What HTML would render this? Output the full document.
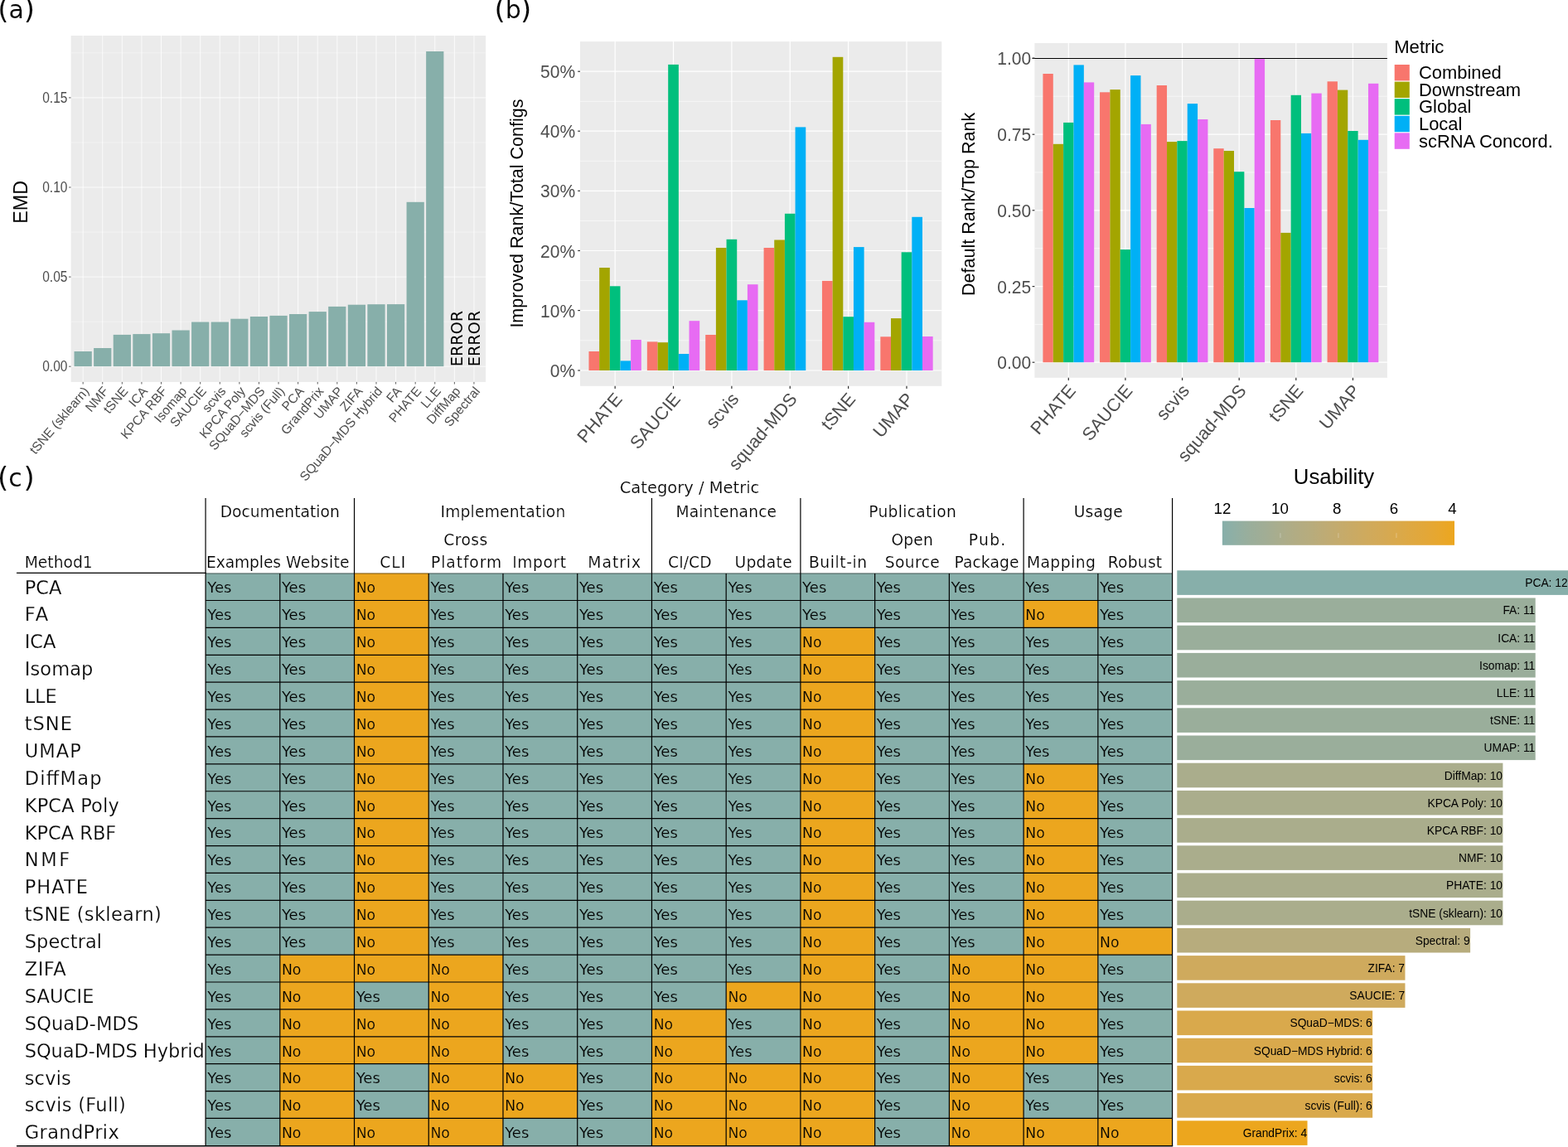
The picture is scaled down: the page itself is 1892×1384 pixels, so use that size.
<!DOCTYPE html>
<html lang="en">
<head>
<meta charset="utf-8">
<title>Figure: EMD, parameter sensitivity and usability of dimensionality reduction methods</title>
<style>
html,body{margin:0;padding:0;background:#fff;}
body{width:1892px;height:1384px;overflow:hidden;}
svg{display:block;}
text{white-space:pre;}
</style>
</head>
<body>
<svg width="1892" height="1384" viewBox="0 0 1892 1384">
<rect x="0" y="0" width="1892" height="1384" fill="#fff"/>
<text y="22" font-family="'DejaVu Sans', Verdana, 'Liberation Sans', sans-serif" font-size="30" stroke="#fff" stroke-width="0.12"><tspan x="-2.75" dy="1.3" font-size="34">(</tspan><tspan x="10.4" dy="-1.3">a</tspan><tspan x="28.7" dy="1.3" font-size="34">)</tspan></text>
<text y="22" font-family="'DejaVu Sans', Verdana, 'Liberation Sans', sans-serif" font-size="30" stroke="#fff" stroke-width="0.12"><tspan x="596.55" dy="1.3" font-size="34">(</tspan><tspan x="609.7" dy="-1.3">b</tspan><tspan x="628" dy="1.3" font-size="34">)</tspan></text>
<text y="587" font-family="'DejaVu Sans', Verdana, 'Liberation Sans', sans-serif" font-size="30" stroke="#fff" stroke-width="0.12"><tspan x="-2.95" dy="1.3" font-size="34">(</tspan><tspan x="10.2" dy="-1.3">c</tspan><tspan x="28.5" dy="1.3" font-size="34">)</tspan></text>
<rect x="85.6" y="43" width="500.5" height="417.9" fill="#EBEBEB"/>
<g stroke="#fff" fill="none">
<line x1="85.6" y1="388.15" x2="586.1" y2="388.15" stroke="#fff" stroke-width="0.4"/>
<line x1="85.6" y1="280.05" x2="586.1" y2="280.05" stroke="#fff" stroke-width="0.4"/>
<line x1="85.6" y1="171.95" x2="586.1" y2="171.95" stroke="#fff" stroke-width="0.4"/>
<line x1="85.6" y1="63.85" x2="586.1" y2="63.85" stroke="#fff" stroke-width="0.4"/>
<line x1="85.6" y1="442.2" x2="586.1" y2="442.2" stroke="#fff" stroke-width="0.8"/>
<line x1="85.6" y1="334.1" x2="586.1" y2="334.1" stroke="#fff" stroke-width="0.8"/>
<line x1="85.6" y1="226" x2="586.1" y2="226" stroke="#fff" stroke-width="0.8"/>
<line x1="85.6" y1="117.9" x2="586.1" y2="117.9" stroke="#fff" stroke-width="0.8"/>
<line x1="100.15" y1="43" x2="100.15" y2="460.9" stroke="#fff" stroke-width="0.8"/>
<line x1="123.74" y1="43" x2="123.74" y2="460.9" stroke="#fff" stroke-width="0.8"/>
<line x1="147.33" y1="43" x2="147.33" y2="460.9" stroke="#fff" stroke-width="0.8"/>
<line x1="170.92" y1="43" x2="170.92" y2="460.9" stroke="#fff" stroke-width="0.8"/>
<line x1="194.51" y1="43" x2="194.51" y2="460.9" stroke="#fff" stroke-width="0.8"/>
<line x1="218.1" y1="43" x2="218.1" y2="460.9" stroke="#fff" stroke-width="0.8"/>
<line x1="241.69" y1="43" x2="241.69" y2="460.9" stroke="#fff" stroke-width="0.8"/>
<line x1="265.28" y1="43" x2="265.28" y2="460.9" stroke="#fff" stroke-width="0.8"/>
<line x1="288.87" y1="43" x2="288.87" y2="460.9" stroke="#fff" stroke-width="0.8"/>
<line x1="312.46" y1="43" x2="312.46" y2="460.9" stroke="#fff" stroke-width="0.8"/>
<line x1="336.05" y1="43" x2="336.05" y2="460.9" stroke="#fff" stroke-width="0.8"/>
<line x1="359.64" y1="43" x2="359.64" y2="460.9" stroke="#fff" stroke-width="0.8"/>
<line x1="383.23" y1="43" x2="383.23" y2="460.9" stroke="#fff" stroke-width="0.8"/>
<line x1="406.82" y1="43" x2="406.82" y2="460.9" stroke="#fff" stroke-width="0.8"/>
<line x1="430.41" y1="43" x2="430.41" y2="460.9" stroke="#fff" stroke-width="0.8"/>
<line x1="454" y1="43" x2="454" y2="460.9" stroke="#fff" stroke-width="0.8"/>
<line x1="477.59" y1="43" x2="477.59" y2="460.9" stroke="#fff" stroke-width="0.8"/>
<line x1="501.18" y1="43" x2="501.18" y2="460.9" stroke="#fff" stroke-width="0.8"/>
<line x1="524.77" y1="43" x2="524.77" y2="460.9" stroke="#fff" stroke-width="0.8"/>
<line x1="548.36" y1="43" x2="548.36" y2="460.9" stroke="#fff" stroke-width="0.8"/>
<line x1="571.95" y1="43" x2="571.95" y2="460.9" stroke="#fff" stroke-width="0.8"/>
</g>
<rect x="89.53" y="424" width="21.23" height="18.1" fill="#87AFAA"/>
<rect x="113.12" y="420" width="21.23" height="22.1" fill="#87AFAA"/>
<rect x="136.71" y="403.9" width="21.23" height="38.2" fill="#87AFAA"/>
<rect x="160.3" y="403.1" width="21.23" height="39" fill="#87AFAA"/>
<rect x="183.89" y="402.2" width="21.23" height="39.9" fill="#87AFAA"/>
<rect x="207.48" y="398.5" width="21.23" height="43.6" fill="#87AFAA"/>
<rect x="231.07" y="388.5" width="21.23" height="53.6" fill="#87AFAA"/>
<rect x="254.66" y="388.5" width="21.23" height="53.6" fill="#87AFAA"/>
<rect x="278.25" y="384.7" width="21.23" height="57.4" fill="#87AFAA"/>
<rect x="301.84" y="382" width="21.23" height="60.1" fill="#87AFAA"/>
<rect x="325.43" y="380.9" width="21.23" height="61.2" fill="#87AFAA"/>
<rect x="349.02" y="379" width="21.23" height="63.1" fill="#87AFAA"/>
<rect x="372.61" y="376.1" width="21.23" height="66" fill="#87AFAA"/>
<rect x="396.2" y="369.9" width="21.23" height="72.2" fill="#87AFAA"/>
<rect x="419.79" y="367.7" width="21.23" height="74.4" fill="#87AFAA"/>
<rect x="443.38" y="367.2" width="21.23" height="74.9" fill="#87AFAA"/>
<rect x="466.97" y="367.1" width="21.23" height="75" fill="#87AFAA"/>
<rect x="490.56" y="243.8" width="21.23" height="198.3" fill="#87AFAA"/>
<rect x="514.15" y="62" width="21.23" height="380.1" fill="#87AFAA"/>
<line x1="83" y1="442.2" x2="85.6" y2="442.2" stroke="#333333" stroke-width="0.8"/>
<text transform="translate(81.4 448.1) scale(1 1.13)" font-size="15.5" font-family="'Liberation Sans', Arial, Helvetica, sans-serif" text-anchor="end" fill="#4D4D4D">0.00</text>
<line x1="83" y1="334.1" x2="85.6" y2="334.1" stroke="#333333" stroke-width="0.8"/>
<text transform="translate(81.4 340) scale(1 1.13)" font-size="15.5" font-family="'Liberation Sans', Arial, Helvetica, sans-serif" text-anchor="end" fill="#4D4D4D">0.05</text>
<line x1="83" y1="226" x2="85.6" y2="226" stroke="#333333" stroke-width="0.8"/>
<text transform="translate(81.4 231.9) scale(1 1.13)" font-size="15.5" font-family="'Liberation Sans', Arial, Helvetica, sans-serif" text-anchor="end" fill="#4D4D4D">0.10</text>
<line x1="83" y1="117.9" x2="85.6" y2="117.9" stroke="#333333" stroke-width="0.8"/>
<text transform="translate(81.4 123.8) scale(1 1.13)" font-size="15.5" font-family="'Liberation Sans', Arial, Helvetica, sans-serif" text-anchor="end" fill="#4D4D4D">0.15</text>
<line x1="100.15" y1="460.9" x2="100.15" y2="463.5" stroke="#333333" stroke-width="0.8"/>
<text transform="translate(108.15 472.4) rotate(-49.5)" font-size="15.5" font-family="'Liberation Sans', Arial, Helvetica, sans-serif" text-anchor="end" fill="#4D4D4D">tSNE (sklearn)</text>
<line x1="123.74" y1="460.9" x2="123.74" y2="463.5" stroke="#333333" stroke-width="0.8"/>
<text transform="translate(131.74 472.4) rotate(-49.5)" font-size="15.5" font-family="'Liberation Sans', Arial, Helvetica, sans-serif" text-anchor="end" fill="#4D4D4D">NMF</text>
<line x1="147.33" y1="460.9" x2="147.33" y2="463.5" stroke="#333333" stroke-width="0.8"/>
<text transform="translate(155.33 472.4) rotate(-49.5)" font-size="15.5" font-family="'Liberation Sans', Arial, Helvetica, sans-serif" text-anchor="end" fill="#4D4D4D">tSNE</text>
<line x1="170.92" y1="460.9" x2="170.92" y2="463.5" stroke="#333333" stroke-width="0.8"/>
<text transform="translate(178.92 472.4) rotate(-49.5)" font-size="15.5" font-family="'Liberation Sans', Arial, Helvetica, sans-serif" text-anchor="end" fill="#4D4D4D">ICA</text>
<line x1="194.51" y1="460.9" x2="194.51" y2="463.5" stroke="#333333" stroke-width="0.8"/>
<text transform="translate(202.51 472.4) rotate(-49.5)" font-size="15.5" font-family="'Liberation Sans', Arial, Helvetica, sans-serif" text-anchor="end" fill="#4D4D4D">KPCA RBF</text>
<line x1="218.1" y1="460.9" x2="218.1" y2="463.5" stroke="#333333" stroke-width="0.8"/>
<text transform="translate(226.1 472.4) rotate(-49.5)" font-size="15.5" font-family="'Liberation Sans', Arial, Helvetica, sans-serif" text-anchor="end" fill="#4D4D4D">Isomap</text>
<line x1="241.69" y1="460.9" x2="241.69" y2="463.5" stroke="#333333" stroke-width="0.8"/>
<text transform="translate(249.69 472.4) rotate(-49.5)" font-size="15.5" font-family="'Liberation Sans', Arial, Helvetica, sans-serif" text-anchor="end" fill="#4D4D4D">SAUCIE</text>
<line x1="265.28" y1="460.9" x2="265.28" y2="463.5" stroke="#333333" stroke-width="0.8"/>
<text transform="translate(273.28 472.4) rotate(-49.5)" font-size="15.5" font-family="'Liberation Sans', Arial, Helvetica, sans-serif" text-anchor="end" fill="#4D4D4D">scvis</text>
<line x1="288.87" y1="460.9" x2="288.87" y2="463.5" stroke="#333333" stroke-width="0.8"/>
<text transform="translate(296.87 472.4) rotate(-49.5)" font-size="15.5" font-family="'Liberation Sans', Arial, Helvetica, sans-serif" text-anchor="end" fill="#4D4D4D">KPCA Poly</text>
<line x1="312.46" y1="460.9" x2="312.46" y2="463.5" stroke="#333333" stroke-width="0.8"/>
<text transform="translate(320.46 472.4) rotate(-49.5)" font-size="15.5" font-family="'Liberation Sans', Arial, Helvetica, sans-serif" text-anchor="end" fill="#4D4D4D">SQuaD−MDS</text>
<line x1="336.05" y1="460.9" x2="336.05" y2="463.5" stroke="#333333" stroke-width="0.8"/>
<text transform="translate(344.05 472.4) rotate(-49.5)" font-size="15.5" font-family="'Liberation Sans', Arial, Helvetica, sans-serif" text-anchor="end" fill="#4D4D4D">scvis (Full)</text>
<line x1="359.64" y1="460.9" x2="359.64" y2="463.5" stroke="#333333" stroke-width="0.8"/>
<text transform="translate(367.64 472.4) rotate(-49.5)" font-size="15.5" font-family="'Liberation Sans', Arial, Helvetica, sans-serif" text-anchor="end" fill="#4D4D4D">PCA</text>
<line x1="383.23" y1="460.9" x2="383.23" y2="463.5" stroke="#333333" stroke-width="0.8"/>
<text transform="translate(391.23 472.4) rotate(-49.5)" font-size="15.5" font-family="'Liberation Sans', Arial, Helvetica, sans-serif" text-anchor="end" fill="#4D4D4D">GrandPrix</text>
<line x1="406.82" y1="460.9" x2="406.82" y2="463.5" stroke="#333333" stroke-width="0.8"/>
<text transform="translate(414.82 472.4) rotate(-49.5)" font-size="15.5" font-family="'Liberation Sans', Arial, Helvetica, sans-serif" text-anchor="end" fill="#4D4D4D">UMAP</text>
<line x1="430.41" y1="460.9" x2="430.41" y2="463.5" stroke="#333333" stroke-width="0.8"/>
<text transform="translate(438.41 472.4) rotate(-49.5)" font-size="15.5" font-family="'Liberation Sans', Arial, Helvetica, sans-serif" text-anchor="end" fill="#4D4D4D">ZIFA</text>
<line x1="454" y1="460.9" x2="454" y2="463.5" stroke="#333333" stroke-width="0.8"/>
<text transform="translate(462 472.4) rotate(-49.5)" font-size="15.5" font-family="'Liberation Sans', Arial, Helvetica, sans-serif" text-anchor="end" fill="#4D4D4D">SQuaD−MDS Hybrid</text>
<line x1="477.59" y1="460.9" x2="477.59" y2="463.5" stroke="#333333" stroke-width="0.8"/>
<text transform="translate(485.59 472.4) rotate(-49.5)" font-size="15.5" font-family="'Liberation Sans', Arial, Helvetica, sans-serif" text-anchor="end" fill="#4D4D4D">FA</text>
<line x1="501.18" y1="460.9" x2="501.18" y2="463.5" stroke="#333333" stroke-width="0.8"/>
<text transform="translate(509.18 472.4) rotate(-49.5)" font-size="15.5" font-family="'Liberation Sans', Arial, Helvetica, sans-serif" text-anchor="end" fill="#4D4D4D">PHATE</text>
<line x1="524.77" y1="460.9" x2="524.77" y2="463.5" stroke="#333333" stroke-width="0.8"/>
<text transform="translate(532.77 472.4) rotate(-49.5)" font-size="15.5" font-family="'Liberation Sans', Arial, Helvetica, sans-serif" text-anchor="end" fill="#4D4D4D">LLE</text>
<line x1="548.36" y1="460.9" x2="548.36" y2="463.5" stroke="#333333" stroke-width="0.8"/>
<text transform="translate(556.36 472.4) rotate(-49.5)" font-size="15.5" font-family="'Liberation Sans', Arial, Helvetica, sans-serif" text-anchor="end" fill="#4D4D4D">DiffMap</text>
<line x1="571.95" y1="460.9" x2="571.95" y2="463.5" stroke="#333333" stroke-width="0.8"/>
<text transform="translate(579.95 472.4) rotate(-49.5)" font-size="15.5" font-family="'Liberation Sans', Arial, Helvetica, sans-serif" text-anchor="end" fill="#4D4D4D">Spectral</text>
<text transform="translate(33 243.8) rotate(-90)" font-size="23.3" font-family="'Liberation Sans', Arial, Helvetica, sans-serif" text-anchor="middle">EMD</text>
<text transform="translate(557.6 442.3) rotate(-90)" font-size="19.3" font-family="'DejaVu Sans', Verdana, 'Liberation Sans', sans-serif" stroke="#EBEBEB" stroke-width="0">ERROR</text>
<text transform="translate(578.9 442.3) rotate(-90)" font-size="19.3" font-family="'DejaVu Sans', Verdana, 'Liberation Sans', sans-serif" stroke="#EBEBEB" stroke-width="0">ERROR</text>
<rect x="700" y="50.1" width="436.3" height="415.7" fill="#EBEBEB"/>
<g stroke="#fff" fill="none">
<line x1="700" y1="410.8" x2="1136.3" y2="410.8" stroke="#fff" stroke-width="0.6"/>
<line x1="700" y1="338.6" x2="1136.3" y2="338.6" stroke="#fff" stroke-width="0.6"/>
<line x1="700" y1="266.4" x2="1136.3" y2="266.4" stroke="#fff" stroke-width="0.6"/>
<line x1="700" y1="194.3" x2="1136.3" y2="194.3" stroke="#fff" stroke-width="0.6"/>
<line x1="700" y1="122.3" x2="1136.3" y2="122.3" stroke="#fff" stroke-width="0.6"/>
<line x1="700" y1="447" x2="1136.3" y2="447" stroke="#fff" stroke-width="1.2"/>
<line x1="700" y1="374.6" x2="1136.3" y2="374.6" stroke="#fff" stroke-width="1.2"/>
<line x1="700" y1="302.5" x2="1136.3" y2="302.5" stroke="#fff" stroke-width="1.2"/>
<line x1="700" y1="230.3" x2="1136.3" y2="230.3" stroke="#fff" stroke-width="1.2"/>
<line x1="700" y1="158.2" x2="1136.3" y2="158.2" stroke="#fff" stroke-width="1.2"/>
<line x1="700" y1="86.2" x2="1136.3" y2="86.2" stroke="#fff" stroke-width="1.2"/>
<line x1="742.15" y1="50.1" x2="742.15" y2="465.8" stroke="#fff" stroke-width="1.2"/>
<line x1="812.52" y1="50.1" x2="812.52" y2="465.8" stroke="#fff" stroke-width="1.2"/>
<line x1="882.89" y1="50.1" x2="882.89" y2="465.8" stroke="#fff" stroke-width="1.2"/>
<line x1="953.26" y1="50.1" x2="953.26" y2="465.8" stroke="#fff" stroke-width="1.2"/>
<line x1="1023.63" y1="50.1" x2="1023.63" y2="465.8" stroke="#fff" stroke-width="1.2"/>
<line x1="1094" y1="50.1" x2="1094" y2="465.8" stroke="#fff" stroke-width="1.2"/>
</g>
<rect x="710.48" y="424" width="12.67" height="23" fill="#F8766D"/>
<rect x="723.15" y="323" width="12.67" height="124" fill="#A3A500"/>
<rect x="735.82" y="345.3" width="12.67" height="101.7" fill="#00BF7D"/>
<rect x="748.48" y="435.4" width="12.67" height="11.6" fill="#00B0F6"/>
<rect x="761.15" y="410" width="12.67" height="37" fill="#E76BF3"/>
<rect x="780.85" y="412.4" width="12.67" height="34.6" fill="#F8766D"/>
<rect x="793.52" y="413.2" width="12.67" height="33.8" fill="#A3A500"/>
<rect x="806.19" y="77.9" width="12.67" height="369.1" fill="#00BF7D"/>
<rect x="818.85" y="427" width="12.67" height="20" fill="#00B0F6"/>
<rect x="831.52" y="387.2" width="12.67" height="59.8" fill="#E76BF3"/>
<rect x="851.22" y="404" width="12.67" height="43" fill="#F8766D"/>
<rect x="863.89" y="299" width="12.67" height="148" fill="#A3A500"/>
<rect x="876.56" y="288.8" width="12.67" height="158.2" fill="#00BF7D"/>
<rect x="889.22" y="362.3" width="12.67" height="84.7" fill="#00B0F6"/>
<rect x="901.89" y="343.2" width="12.67" height="103.8" fill="#E76BF3"/>
<rect x="921.59" y="299" width="12.67" height="148" fill="#F8766D"/>
<rect x="934.26" y="289.5" width="12.67" height="157.5" fill="#A3A500"/>
<rect x="946.93" y="257.8" width="12.67" height="189.2" fill="#00BF7D"/>
<rect x="959.59" y="153.4" width="12.67" height="293.6" fill="#00B0F6"/>
<rect x="991.96" y="338.9" width="12.67" height="108.1" fill="#F8766D"/>
<rect x="1004.63" y="68.8" width="12.67" height="378.2" fill="#A3A500"/>
<rect x="1017.3" y="382.2" width="12.67" height="64.8" fill="#00BF7D"/>
<rect x="1029.96" y="298.1" width="12.67" height="148.9" fill="#00B0F6"/>
<rect x="1042.63" y="388.8" width="12.67" height="58.2" fill="#E76BF3"/>
<rect x="1062.33" y="406.3" width="12.67" height="40.7" fill="#F8766D"/>
<rect x="1075" y="384.1" width="12.67" height="62.9" fill="#A3A500"/>
<rect x="1087.67" y="304.3" width="12.67" height="142.7" fill="#00BF7D"/>
<rect x="1100.33" y="261.8" width="12.67" height="185.2" fill="#00B0F6"/>
<rect x="1113" y="406" width="12.67" height="41" fill="#E76BF3"/>
<line x1="697.2" y1="447" x2="700" y2="447" stroke="#333333" stroke-width="1.2"/>
<text transform="translate(694.1 455) scale(1 1.09)" font-size="21" font-family="'Liberation Sans', Arial, Helvetica, sans-serif" text-anchor="end" fill="#4D4D4D">0%</text>
<line x1="697.2" y1="374.6" x2="700" y2="374.6" stroke="#333333" stroke-width="1.2"/>
<text transform="translate(694.1 382.6) scale(1 1.09)" font-size="21" font-family="'Liberation Sans', Arial, Helvetica, sans-serif" text-anchor="end" fill="#4D4D4D">10%</text>
<line x1="697.2" y1="302.5" x2="700" y2="302.5" stroke="#333333" stroke-width="1.2"/>
<text transform="translate(694.1 310.5) scale(1 1.09)" font-size="21" font-family="'Liberation Sans', Arial, Helvetica, sans-serif" text-anchor="end" fill="#4D4D4D">20%</text>
<line x1="697.2" y1="230.3" x2="700" y2="230.3" stroke="#333333" stroke-width="1.2"/>
<text transform="translate(694.1 238.3) scale(1 1.09)" font-size="21" font-family="'Liberation Sans', Arial, Helvetica, sans-serif" text-anchor="end" fill="#4D4D4D">30%</text>
<line x1="697.2" y1="158.2" x2="700" y2="158.2" stroke="#333333" stroke-width="1.2"/>
<text transform="translate(694.1 166.2) scale(1 1.09)" font-size="21" font-family="'Liberation Sans', Arial, Helvetica, sans-serif" text-anchor="end" fill="#4D4D4D">40%</text>
<line x1="697.2" y1="86.2" x2="700" y2="86.2" stroke="#333333" stroke-width="1.2"/>
<text transform="translate(694.1 94.2) scale(1 1.09)" font-size="21" font-family="'Liberation Sans', Arial, Helvetica, sans-serif" text-anchor="end" fill="#4D4D4D">50%</text>
<line x1="742.15" y1="465.8" x2="742.15" y2="469" stroke="#333333" stroke-width="1.2"/>
<text transform="translate(751.85 482.1) rotate(-49.5)" font-size="21.6" font-family="'Liberation Sans', Arial, Helvetica, sans-serif" text-anchor="end" fill="#4D4D4D">PHATE</text>
<line x1="812.52" y1="465.8" x2="812.52" y2="469" stroke="#333333" stroke-width="1.2"/>
<text transform="translate(822.22 482.1) rotate(-49.5)" font-size="21.6" font-family="'Liberation Sans', Arial, Helvetica, sans-serif" text-anchor="end" fill="#4D4D4D">SAUCIE</text>
<line x1="882.89" y1="465.8" x2="882.89" y2="469" stroke="#333333" stroke-width="1.2"/>
<text transform="translate(892.59 482.1) rotate(-49.5)" font-size="21.6" font-family="'Liberation Sans', Arial, Helvetica, sans-serif" text-anchor="end" fill="#4D4D4D">scvis</text>
<line x1="953.26" y1="465.8" x2="953.26" y2="469" stroke="#333333" stroke-width="1.2"/>
<text transform="translate(962.96 482.1) rotate(-49.5)" font-size="21.6" font-family="'Liberation Sans', Arial, Helvetica, sans-serif" text-anchor="end" fill="#4D4D4D">squad-MDS</text>
<line x1="1023.63" y1="465.8" x2="1023.63" y2="469" stroke="#333333" stroke-width="1.2"/>
<text transform="translate(1033.33 482.1) rotate(-49.5)" font-size="21.6" font-family="'Liberation Sans', Arial, Helvetica, sans-serif" text-anchor="end" fill="#4D4D4D">tSNE</text>
<line x1="1094" y1="465.8" x2="1094" y2="469" stroke="#333333" stroke-width="1.2"/>
<text transform="translate(1103.7 482.1) rotate(-49.5)" font-size="21.6" font-family="'Liberation Sans', Arial, Helvetica, sans-serif" text-anchor="end" fill="#4D4D4D">UMAP</text>
<text transform="translate(630.6 257.6) rotate(-90)" font-size="21.5" font-family="'Liberation Sans', Arial, Helvetica, sans-serif" text-anchor="middle">Improved Rank/Total Configs</text>
<rect x="1248.4" y="52" width="425.5" height="403.8" fill="#EBEBEB"/>
<g stroke="#fff" fill="none">
<line x1="1248.4" y1="391.4" x2="1673.9" y2="391.4" stroke="#fff" stroke-width="0.6"/>
<line x1="1248.4" y1="299.7" x2="1673.9" y2="299.7" stroke="#fff" stroke-width="0.6"/>
<line x1="1248.4" y1="208" x2="1673.9" y2="208" stroke="#fff" stroke-width="0.6"/>
<line x1="1248.4" y1="116.2" x2="1673.9" y2="116.2" stroke="#fff" stroke-width="0.6"/>
<line x1="1248.4" y1="437.2" x2="1673.9" y2="437.2" stroke="#fff" stroke-width="1.2"/>
<line x1="1248.4" y1="345.6" x2="1673.9" y2="345.6" stroke="#fff" stroke-width="1.2"/>
<line x1="1248.4" y1="253.8" x2="1673.9" y2="253.8" stroke="#fff" stroke-width="1.2"/>
<line x1="1248.4" y1="162.2" x2="1673.9" y2="162.2" stroke="#fff" stroke-width="1.2"/>
<line x1="1248.4" y1="70.1" x2="1673.9" y2="70.1" stroke="#fff" stroke-width="1.2"/>
<line x1="1289.3" y1="52" x2="1289.3" y2="455.8" stroke="#fff" stroke-width="1.2"/>
<line x1="1357.93" y1="52" x2="1357.93" y2="455.8" stroke="#fff" stroke-width="1.2"/>
<line x1="1426.56" y1="52" x2="1426.56" y2="455.8" stroke="#fff" stroke-width="1.2"/>
<line x1="1495.19" y1="52" x2="1495.19" y2="455.8" stroke="#fff" stroke-width="1.2"/>
<line x1="1563.82" y1="52" x2="1563.82" y2="455.8" stroke="#fff" stroke-width="1.2"/>
<line x1="1632.45" y1="52" x2="1632.45" y2="455.8" stroke="#fff" stroke-width="1.2"/>
</g>
<rect x="1258.42" y="89" width="12.35" height="348.2" fill="#F8766D"/>
<rect x="1270.77" y="173.8" width="12.35" height="263.4" fill="#A3A500"/>
<rect x="1283.12" y="147.9" width="12.35" height="289.3" fill="#00BF7D"/>
<rect x="1295.48" y="78.4" width="12.35" height="358.8" fill="#00B0F6"/>
<rect x="1307.83" y="99.4" width="12.35" height="337.8" fill="#E76BF3"/>
<rect x="1327.05" y="111.3" width="12.35" height="325.9" fill="#F8766D"/>
<rect x="1339.4" y="108.1" width="12.35" height="329.1" fill="#A3A500"/>
<rect x="1351.75" y="301.1" width="12.35" height="136.1" fill="#00BF7D"/>
<rect x="1364.11" y="91.1" width="12.35" height="346.1" fill="#00B0F6"/>
<rect x="1376.46" y="149.9" width="12.35" height="287.3" fill="#E76BF3"/>
<rect x="1395.68" y="103" width="12.35" height="334.2" fill="#F8766D"/>
<rect x="1408.03" y="171.1" width="12.35" height="266.1" fill="#A3A500"/>
<rect x="1420.38" y="170.1" width="12.35" height="267.1" fill="#00BF7D"/>
<rect x="1432.74" y="125.1" width="12.35" height="312.1" fill="#00B0F6"/>
<rect x="1445.09" y="144" width="12.35" height="293.2" fill="#E76BF3"/>
<rect x="1464.31" y="179.2" width="12.35" height="258" fill="#F8766D"/>
<rect x="1476.66" y="182" width="12.35" height="255.2" fill="#A3A500"/>
<rect x="1489.01" y="207.2" width="12.35" height="230" fill="#00BF7D"/>
<rect x="1501.37" y="251" width="12.35" height="186.2" fill="#00B0F6"/>
<rect x="1513.72" y="71.1" width="12.35" height="366.1" fill="#E76BF3"/>
<rect x="1532.94" y="145" width="12.35" height="292.2" fill="#F8766D"/>
<rect x="1545.29" y="280.9" width="12.35" height="156.3" fill="#A3A500"/>
<rect x="1557.64" y="114.8" width="12.35" height="322.4" fill="#00BF7D"/>
<rect x="1570" y="160.9" width="12.35" height="276.3" fill="#00B0F6"/>
<rect x="1582.35" y="112.6" width="12.35" height="324.6" fill="#E76BF3"/>
<rect x="1601.57" y="98.3" width="12.35" height="338.9" fill="#F8766D"/>
<rect x="1613.92" y="108.6" width="12.35" height="328.6" fill="#A3A500"/>
<rect x="1626.27" y="158" width="12.35" height="279.2" fill="#00BF7D"/>
<rect x="1638.63" y="168.8" width="12.35" height="268.4" fill="#00B0F6"/>
<rect x="1650.98" y="100.8" width="12.35" height="336.4" fill="#E76BF3"/>
<line x1="1245.6" y1="70.5" x2="1673.9" y2="70.5" stroke="#000" stroke-width="1"/>
<line x1="1245.6" y1="437.2" x2="1248.4" y2="437.2" stroke="#333333" stroke-width="1.2"/>
<text transform="translate(1244.1 445.2) scale(1 1.09)" font-size="21" font-family="'Liberation Sans', Arial, Helvetica, sans-serif" text-anchor="end" fill="#4D4D4D">0.00</text>
<line x1="1245.6" y1="345.6" x2="1248.4" y2="345.6" stroke="#333333" stroke-width="1.2"/>
<text transform="translate(1244.1 353.6) scale(1 1.09)" font-size="21" font-family="'Liberation Sans', Arial, Helvetica, sans-serif" text-anchor="end" fill="#4D4D4D">0.25</text>
<line x1="1245.6" y1="253.8" x2="1248.4" y2="253.8" stroke="#333333" stroke-width="1.2"/>
<text transform="translate(1244.1 261.8) scale(1 1.09)" font-size="21" font-family="'Liberation Sans', Arial, Helvetica, sans-serif" text-anchor="end" fill="#4D4D4D">0.50</text>
<line x1="1245.6" y1="162.2" x2="1248.4" y2="162.2" stroke="#333333" stroke-width="1.2"/>
<text transform="translate(1244.1 170.2) scale(1 1.09)" font-size="21" font-family="'Liberation Sans', Arial, Helvetica, sans-serif" text-anchor="end" fill="#4D4D4D">0.75</text>
<line x1="1245.6" y1="70.1" x2="1248.4" y2="70.1" stroke="#333333" stroke-width="1.2"/>
<text transform="translate(1244.1 78.1) scale(1 1.09)" font-size="21" font-family="'Liberation Sans', Arial, Helvetica, sans-serif" text-anchor="end" fill="#4D4D4D">1.00</text>
<line x1="1289.3" y1="455.8" x2="1289.3" y2="459" stroke="#333333" stroke-width="1.2"/>
<text transform="translate(1299 472.1) rotate(-49.5)" font-size="21.6" font-family="'Liberation Sans', Arial, Helvetica, sans-serif" text-anchor="end" fill="#4D4D4D">PHATE</text>
<line x1="1357.93" y1="455.8" x2="1357.93" y2="459" stroke="#333333" stroke-width="1.2"/>
<text transform="translate(1367.63 472.1) rotate(-49.5)" font-size="21.6" font-family="'Liberation Sans', Arial, Helvetica, sans-serif" text-anchor="end" fill="#4D4D4D">SAUCIE</text>
<line x1="1426.56" y1="455.8" x2="1426.56" y2="459" stroke="#333333" stroke-width="1.2"/>
<text transform="translate(1436.26 472.1) rotate(-49.5)" font-size="21.6" font-family="'Liberation Sans', Arial, Helvetica, sans-serif" text-anchor="end" fill="#4D4D4D">scvis</text>
<line x1="1495.19" y1="455.8" x2="1495.19" y2="459" stroke="#333333" stroke-width="1.2"/>
<text transform="translate(1504.89 472.1) rotate(-49.5)" font-size="21.6" font-family="'Liberation Sans', Arial, Helvetica, sans-serif" text-anchor="end" fill="#4D4D4D">squad-MDS</text>
<line x1="1563.82" y1="455.8" x2="1563.82" y2="459" stroke="#333333" stroke-width="1.2"/>
<text transform="translate(1573.52 472.1) rotate(-49.5)" font-size="21.6" font-family="'Liberation Sans', Arial, Helvetica, sans-serif" text-anchor="end" fill="#4D4D4D">tSNE</text>
<line x1="1632.45" y1="455.8" x2="1632.45" y2="459" stroke="#333333" stroke-width="1.2"/>
<text transform="translate(1642.15 472.1) rotate(-49.5)" font-size="21.6" font-family="'Liberation Sans', Arial, Helvetica, sans-serif" text-anchor="end" fill="#4D4D4D">UMAP</text>
<text transform="translate(1176.2 246.4) rotate(-90)" font-size="21.5" font-family="'Liberation Sans', Arial, Helvetica, sans-serif" text-anchor="middle">Default Rank/Top Rank</text>
<text x="1682.2" y="63.8" font-size="22.1" font-family="'Liberation Sans', Arial, Helvetica, sans-serif">Metric</text>
<rect x="1682.7" y="78" width="18.1" height="19.4" fill="#F8766D"/>
<text x="1712" y="95.2" font-size="21.9" font-family="'Liberation Sans', Arial, Helvetica, sans-serif">Combined</text>
<rect x="1682.7" y="98.6" width="18.1" height="19.4" fill="#A3A500"/>
<text x="1712" y="115.8" font-size="21.9" font-family="'Liberation Sans', Arial, Helvetica, sans-serif">Downstream</text>
<rect x="1682.7" y="119.2" width="18.1" height="19.4" fill="#00BF7D"/>
<text x="1712" y="136.4" font-size="21.9" font-family="'Liberation Sans', Arial, Helvetica, sans-serif">Global</text>
<rect x="1682.7" y="139.8" width="18.1" height="19.4" fill="#00B0F6"/>
<text x="1712" y="157" font-size="21.9" font-family="'Liberation Sans', Arial, Helvetica, sans-serif">Local</text>
<rect x="1682.7" y="160.4" width="18.1" height="19.4" fill="#E76BF3"/>
<text x="1712" y="177.6" font-size="21.9" font-family="'Liberation Sans', Arial, Helvetica, sans-serif">scRNA Concord.</text>
<rect x="248.05" y="691.6" width="179.47" height="32.89" fill="#87AFAA"/>
<rect x="427.52" y="691.6" width="89.73" height="32.89" fill="#ECA61E"/>
<rect x="517.25" y="691.6" width="897.33" height="32.89" fill="#87AFAA"/>
<rect x="248.05" y="724.49" width="179.47" height="32.89" fill="#87AFAA"/>
<rect x="427.52" y="724.49" width="89.73" height="32.89" fill="#ECA61E"/>
<rect x="517.25" y="724.49" width="717.86" height="32.89" fill="#87AFAA"/>
<rect x="1235.11" y="724.49" width="89.73" height="32.89" fill="#ECA61E"/>
<rect x="1324.85" y="724.49" width="89.73" height="32.89" fill="#87AFAA"/>
<rect x="248.05" y="757.39" width="179.47" height="32.89" fill="#87AFAA"/>
<rect x="427.52" y="757.39" width="89.73" height="32.89" fill="#ECA61E"/>
<rect x="517.25" y="757.39" width="448.66" height="32.89" fill="#87AFAA"/>
<rect x="965.91" y="757.39" width="89.73" height="32.89" fill="#ECA61E"/>
<rect x="1055.65" y="757.39" width="358.93" height="32.89" fill="#87AFAA"/>
<rect x="248.05" y="790.28" width="179.47" height="32.89" fill="#87AFAA"/>
<rect x="427.52" y="790.28" width="89.73" height="32.89" fill="#ECA61E"/>
<rect x="517.25" y="790.28" width="448.66" height="32.89" fill="#87AFAA"/>
<rect x="965.91" y="790.28" width="89.73" height="32.89" fill="#ECA61E"/>
<rect x="1055.65" y="790.28" width="358.93" height="32.89" fill="#87AFAA"/>
<rect x="248.05" y="823.17" width="179.47" height="32.89" fill="#87AFAA"/>
<rect x="427.52" y="823.17" width="89.73" height="32.89" fill="#ECA61E"/>
<rect x="517.25" y="823.17" width="448.66" height="32.89" fill="#87AFAA"/>
<rect x="965.91" y="823.17" width="89.73" height="32.89" fill="#ECA61E"/>
<rect x="1055.65" y="823.17" width="358.93" height="32.89" fill="#87AFAA"/>
<rect x="248.05" y="856.07" width="179.47" height="32.89" fill="#87AFAA"/>
<rect x="427.52" y="856.07" width="89.73" height="32.89" fill="#ECA61E"/>
<rect x="517.25" y="856.07" width="448.66" height="32.89" fill="#87AFAA"/>
<rect x="965.91" y="856.07" width="89.73" height="32.89" fill="#ECA61E"/>
<rect x="1055.65" y="856.07" width="358.93" height="32.89" fill="#87AFAA"/>
<rect x="248.05" y="888.96" width="179.47" height="32.89" fill="#87AFAA"/>
<rect x="427.52" y="888.96" width="89.73" height="32.89" fill="#ECA61E"/>
<rect x="517.25" y="888.96" width="448.66" height="32.89" fill="#87AFAA"/>
<rect x="965.91" y="888.96" width="89.73" height="32.89" fill="#ECA61E"/>
<rect x="1055.65" y="888.96" width="358.93" height="32.89" fill="#87AFAA"/>
<rect x="248.05" y="921.85" width="179.47" height="32.89" fill="#87AFAA"/>
<rect x="427.52" y="921.85" width="89.73" height="32.89" fill="#ECA61E"/>
<rect x="517.25" y="921.85" width="448.66" height="32.89" fill="#87AFAA"/>
<rect x="965.91" y="921.85" width="89.73" height="32.89" fill="#ECA61E"/>
<rect x="1055.65" y="921.85" width="179.47" height="32.89" fill="#87AFAA"/>
<rect x="1235.11" y="921.85" width="89.73" height="32.89" fill="#ECA61E"/>
<rect x="1324.85" y="921.85" width="89.73" height="32.89" fill="#87AFAA"/>
<rect x="248.05" y="954.74" width="179.47" height="32.89" fill="#87AFAA"/>
<rect x="427.52" y="954.74" width="89.73" height="32.89" fill="#ECA61E"/>
<rect x="517.25" y="954.74" width="448.66" height="32.89" fill="#87AFAA"/>
<rect x="965.91" y="954.74" width="89.73" height="32.89" fill="#ECA61E"/>
<rect x="1055.65" y="954.74" width="179.47" height="32.89" fill="#87AFAA"/>
<rect x="1235.11" y="954.74" width="89.73" height="32.89" fill="#ECA61E"/>
<rect x="1324.85" y="954.74" width="89.73" height="32.89" fill="#87AFAA"/>
<rect x="248.05" y="987.64" width="179.47" height="32.89" fill="#87AFAA"/>
<rect x="427.52" y="987.64" width="89.73" height="32.89" fill="#ECA61E"/>
<rect x="517.25" y="987.64" width="448.66" height="32.89" fill="#87AFAA"/>
<rect x="965.91" y="987.64" width="89.73" height="32.89" fill="#ECA61E"/>
<rect x="1055.65" y="987.64" width="179.47" height="32.89" fill="#87AFAA"/>
<rect x="1235.11" y="987.64" width="89.73" height="32.89" fill="#ECA61E"/>
<rect x="1324.85" y="987.64" width="89.73" height="32.89" fill="#87AFAA"/>
<rect x="248.05" y="1020.53" width="179.47" height="32.89" fill="#87AFAA"/>
<rect x="427.52" y="1020.53" width="89.73" height="32.89" fill="#ECA61E"/>
<rect x="517.25" y="1020.53" width="448.66" height="32.89" fill="#87AFAA"/>
<rect x="965.91" y="1020.53" width="89.73" height="32.89" fill="#ECA61E"/>
<rect x="1055.65" y="1020.53" width="179.47" height="32.89" fill="#87AFAA"/>
<rect x="1235.11" y="1020.53" width="89.73" height="32.89" fill="#ECA61E"/>
<rect x="1324.85" y="1020.53" width="89.73" height="32.89" fill="#87AFAA"/>
<rect x="248.05" y="1053.42" width="179.47" height="32.89" fill="#87AFAA"/>
<rect x="427.52" y="1053.42" width="89.73" height="32.89" fill="#ECA61E"/>
<rect x="517.25" y="1053.42" width="448.66" height="32.89" fill="#87AFAA"/>
<rect x="965.91" y="1053.42" width="89.73" height="32.89" fill="#ECA61E"/>
<rect x="1055.65" y="1053.42" width="179.47" height="32.89" fill="#87AFAA"/>
<rect x="1235.11" y="1053.42" width="89.73" height="32.89" fill="#ECA61E"/>
<rect x="1324.85" y="1053.42" width="89.73" height="32.89" fill="#87AFAA"/>
<rect x="248.05" y="1086.32" width="179.47" height="32.89" fill="#87AFAA"/>
<rect x="427.52" y="1086.32" width="89.73" height="32.89" fill="#ECA61E"/>
<rect x="517.25" y="1086.32" width="448.66" height="32.89" fill="#87AFAA"/>
<rect x="965.91" y="1086.32" width="89.73" height="32.89" fill="#ECA61E"/>
<rect x="1055.65" y="1086.32" width="179.47" height="32.89" fill="#87AFAA"/>
<rect x="1235.11" y="1086.32" width="89.73" height="32.89" fill="#ECA61E"/>
<rect x="1324.85" y="1086.32" width="89.73" height="32.89" fill="#87AFAA"/>
<rect x="248.05" y="1119.21" width="179.47" height="32.89" fill="#87AFAA"/>
<rect x="427.52" y="1119.21" width="89.73" height="32.89" fill="#ECA61E"/>
<rect x="517.25" y="1119.21" width="448.66" height="32.89" fill="#87AFAA"/>
<rect x="965.91" y="1119.21" width="89.73" height="32.89" fill="#ECA61E"/>
<rect x="1055.65" y="1119.21" width="179.47" height="32.89" fill="#87AFAA"/>
<rect x="1235.11" y="1119.21" width="179.47" height="32.89" fill="#ECA61E"/>
<rect x="248.05" y="1152.1" width="89.73" height="32.89" fill="#87AFAA"/>
<rect x="337.78" y="1152.1" width="269.2" height="32.89" fill="#ECA61E"/>
<rect x="606.98" y="1152.1" width="358.93" height="32.89" fill="#87AFAA"/>
<rect x="965.91" y="1152.1" width="89.73" height="32.89" fill="#ECA61E"/>
<rect x="1055.65" y="1152.1" width="89.73" height="32.89" fill="#87AFAA"/>
<rect x="1145.38" y="1152.1" width="179.47" height="32.89" fill="#ECA61E"/>
<rect x="1324.85" y="1152.1" width="89.73" height="32.89" fill="#87AFAA"/>
<rect x="248.05" y="1184.99" width="89.73" height="32.89" fill="#87AFAA"/>
<rect x="337.78" y="1184.99" width="89.73" height="32.89" fill="#ECA61E"/>
<rect x="427.52" y="1184.99" width="89.73" height="32.89" fill="#87AFAA"/>
<rect x="517.25" y="1184.99" width="89.73" height="32.89" fill="#ECA61E"/>
<rect x="606.98" y="1184.99" width="269.2" height="32.89" fill="#87AFAA"/>
<rect x="876.18" y="1184.99" width="179.47" height="32.89" fill="#ECA61E"/>
<rect x="1055.65" y="1184.99" width="89.73" height="32.89" fill="#87AFAA"/>
<rect x="1145.38" y="1184.99" width="179.47" height="32.89" fill="#ECA61E"/>
<rect x="1324.85" y="1184.99" width="89.73" height="32.89" fill="#87AFAA"/>
<rect x="248.05" y="1217.89" width="89.73" height="32.89" fill="#87AFAA"/>
<rect x="337.78" y="1217.89" width="269.2" height="32.89" fill="#ECA61E"/>
<rect x="606.98" y="1217.89" width="179.47" height="32.89" fill="#87AFAA"/>
<rect x="786.45" y="1217.89" width="89.73" height="32.89" fill="#ECA61E"/>
<rect x="876.18" y="1217.89" width="89.73" height="32.89" fill="#87AFAA"/>
<rect x="965.91" y="1217.89" width="89.73" height="32.89" fill="#ECA61E"/>
<rect x="1055.65" y="1217.89" width="89.73" height="32.89" fill="#87AFAA"/>
<rect x="1145.38" y="1217.89" width="179.47" height="32.89" fill="#ECA61E"/>
<rect x="1324.85" y="1217.89" width="89.73" height="32.89" fill="#87AFAA"/>
<rect x="248.05" y="1250.78" width="89.73" height="32.89" fill="#87AFAA"/>
<rect x="337.78" y="1250.78" width="269.2" height="32.89" fill="#ECA61E"/>
<rect x="606.98" y="1250.78" width="179.47" height="32.89" fill="#87AFAA"/>
<rect x="786.45" y="1250.78" width="89.73" height="32.89" fill="#ECA61E"/>
<rect x="876.18" y="1250.78" width="89.73" height="32.89" fill="#87AFAA"/>
<rect x="965.91" y="1250.78" width="89.73" height="32.89" fill="#ECA61E"/>
<rect x="1055.65" y="1250.78" width="89.73" height="32.89" fill="#87AFAA"/>
<rect x="1145.38" y="1250.78" width="179.47" height="32.89" fill="#ECA61E"/>
<rect x="1324.85" y="1250.78" width="89.73" height="32.89" fill="#87AFAA"/>
<rect x="248.05" y="1283.67" width="89.73" height="32.89" fill="#87AFAA"/>
<rect x="337.78" y="1283.67" width="89.73" height="32.89" fill="#ECA61E"/>
<rect x="427.52" y="1283.67" width="89.73" height="32.89" fill="#87AFAA"/>
<rect x="517.25" y="1283.67" width="179.47" height="32.89" fill="#ECA61E"/>
<rect x="696.72" y="1283.67" width="89.73" height="32.89" fill="#87AFAA"/>
<rect x="786.45" y="1283.67" width="269.2" height="32.89" fill="#ECA61E"/>
<rect x="1055.65" y="1283.67" width="89.73" height="32.89" fill="#87AFAA"/>
<rect x="1145.38" y="1283.67" width="89.73" height="32.89" fill="#ECA61E"/>
<rect x="1235.11" y="1283.67" width="179.47" height="32.89" fill="#87AFAA"/>
<rect x="248.05" y="1316.57" width="89.73" height="32.89" fill="#87AFAA"/>
<rect x="337.78" y="1316.57" width="89.73" height="32.89" fill="#ECA61E"/>
<rect x="427.52" y="1316.57" width="89.73" height="32.89" fill="#87AFAA"/>
<rect x="517.25" y="1316.57" width="179.47" height="32.89" fill="#ECA61E"/>
<rect x="696.72" y="1316.57" width="89.73" height="32.89" fill="#87AFAA"/>
<rect x="786.45" y="1316.57" width="269.2" height="32.89" fill="#ECA61E"/>
<rect x="1055.65" y="1316.57" width="89.73" height="32.89" fill="#87AFAA"/>
<rect x="1145.38" y="1316.57" width="89.73" height="32.89" fill="#ECA61E"/>
<rect x="1235.11" y="1316.57" width="179.47" height="32.89" fill="#87AFAA"/>
<rect x="248.05" y="1349.46" width="89.73" height="32.89" fill="#87AFAA"/>
<rect x="337.78" y="1349.46" width="269.2" height="32.89" fill="#ECA61E"/>
<rect x="606.98" y="1349.46" width="179.47" height="32.89" fill="#87AFAA"/>
<rect x="786.45" y="1349.46" width="269.2" height="32.89" fill="#ECA61E"/>
<rect x="1055.65" y="1349.46" width="89.73" height="32.89" fill="#87AFAA"/>
<rect x="1145.38" y="1349.46" width="269.2" height="32.89" fill="#ECA61E"/>
<g stroke="#000" stroke-width="1.2">
<line x1="248.05" y1="724.49" x2="1414.58" y2="724.49"/>
<line x1="248.05" y1="757.39" x2="1414.58" y2="757.39"/>
<line x1="248.05" y1="790.28" x2="1414.58" y2="790.28"/>
<line x1="248.05" y1="823.17" x2="1414.58" y2="823.17"/>
<line x1="248.05" y1="856.07" x2="1414.58" y2="856.07"/>
<line x1="248.05" y1="888.96" x2="1414.58" y2="888.96"/>
<line x1="248.05" y1="921.85" x2="1414.58" y2="921.85"/>
<line x1="248.05" y1="954.74" x2="1414.58" y2="954.74"/>
<line x1="248.05" y1="987.64" x2="1414.58" y2="987.64"/>
<line x1="248.05" y1="1020.53" x2="1414.58" y2="1020.53"/>
<line x1="248.05" y1="1053.42" x2="1414.58" y2="1053.42"/>
<line x1="248.05" y1="1086.32" x2="1414.58" y2="1086.32"/>
<line x1="248.05" y1="1119.21" x2="1414.58" y2="1119.21"/>
<line x1="248.05" y1="1152.1" x2="1414.58" y2="1152.1"/>
<line x1="248.05" y1="1184.99" x2="1414.58" y2="1184.99"/>
<line x1="248.05" y1="1217.89" x2="1414.58" y2="1217.89"/>
<line x1="248.05" y1="1250.78" x2="1414.58" y2="1250.78"/>
<line x1="248.05" y1="1283.67" x2="1414.58" y2="1283.67"/>
<line x1="248.05" y1="1316.57" x2="1414.58" y2="1316.57"/>
<line x1="248.05" y1="1349.46" x2="1414.58" y2="1349.46"/>
<line x1="248.05" y1="601" x2="248.05" y2="1382.75"/>
<line x1="337.78" y1="692" x2="337.78" y2="1382.75"/>
<line x1="427.52" y1="601" x2="427.52" y2="1382.75"/>
<line x1="517.25" y1="692" x2="517.25" y2="1382.75"/>
<line x1="606.98" y1="692" x2="606.98" y2="1382.75"/>
<line x1="696.72" y1="692" x2="696.72" y2="1382.75"/>
<line x1="786.45" y1="601" x2="786.45" y2="1382.75"/>
<line x1="876.18" y1="692" x2="876.18" y2="1382.75"/>
<line x1="965.91" y1="601" x2="965.91" y2="1382.75"/>
<line x1="1055.65" y1="692" x2="1055.65" y2="1382.75"/>
<line x1="1145.38" y1="692" x2="1145.38" y2="1382.75"/>
<line x1="1235.11" y1="601" x2="1235.11" y2="1382.75"/>
<line x1="1324.85" y1="692" x2="1324.85" y2="1382.75"/>
<line x1="1414.58" y1="601" x2="1414.58" y2="1382.75"/>
<line x1="20" y1="691.45" x2="248.65" y2="691.45"/>
<line x1="248.05" y1="692" x2="1414.58" y2="692" stroke-opacity="0.5"/>
<line x1="20" y1="1382.75" x2="1415.18" y2="1382.75" stroke-width="1.45"/>
</g>
<g font-family="'DejaVu Sans', Verdana, 'Liberation Sans', sans-serif" font-size="18.7" text-anchor="middle" stroke="#fff" stroke-width="0.2">
<text x="832.01" y="594.6" font-size="19.5">Category / Metric</text>
<text x="337.73" y="624" textLength="144.16">Documentation</text>
<text x="606.88" y="624" textLength="150.79">Implementation</text>
<text x="876.28" y="624" textLength="121.56">Maintenance</text>
<text x="1100.96" y="624" textLength="105.66">Publication</text>
<text x="1325.2" y="624" textLength="58.93">Usage</text>
<text x="294.02" y="684.7" textLength="90.01">Examples</text>
<text x="383.3" y="684.7" textLength="76.6">Website</text>
<text x="473.68" y="684.7" textLength="30.98">CLI</text>
<text x="561.72" y="658.3" textLength="52.83">Cross</text>
<text x="562.62" y="684.7" textLength="85.01">Platform</text>
<text x="650.65" y="684.7" textLength="64.83">Import</text>
<text x="741.23" y="684.7" textLength="63.74">Matrix</text>
<text x="832.31" y="684.7" textLength="52.5">CI/CD</text>
<text x="921.05" y="684.7" textLength="69.29">Update</text>
<text x="1011.03" y="684.7" textLength="70.06">Built-in</text>
<text x="1100.61" y="658.3" textLength="50.32">Open</text>
<text x="1100.81" y="684.7" textLength="65.99">Source</text>
<text x="1191" y="658.3" textLength="44.49">Pub.</text>
<text x="1190.45" y="684.7" textLength="77.87">Package</text>
<text x="1280.38" y="684.7" textLength="83">Mapping</text>
<text x="1369.46" y="684.7" textLength="65.46">Robust</text>
</g>
<text x="29.7" y="684.7" font-size="18.7" font-family="'DejaVu Sans', Verdana, 'Liberation Sans', sans-serif" stroke="#fff" stroke-width="0.2">Method1</text>
<g font-family="'DejaVu Sans', Verdana, 'Liberation Sans', sans-serif" font-size="22.5" stroke="#fff" stroke-width="0.25">
<text x="29.7" y="716.5">PCA</text>
<text x="29.7" y="749.39" textLength="28.58">FA</text>
<text x="29.7" y="782.29">ICA</text>
<text x="29.7" y="815.18" textLength="82.72">Isomap</text>
<text x="29.7" y="848.07" textLength="38.9">LLE</text>
<text x="29.7" y="880.97" textLength="57.16">tSNE</text>
<text x="29.7" y="913.86" textLength="68.24">UMAP</text>
<text x="29.7" y="946.75" textLength="92.76">DiffMap</text>
<text x="29.7" y="979.64" textLength="114.09">KPCA Poly</text>
<text x="29.7" y="1012.54">KPCA RBF</text>
<text x="29.7" y="1045.43" textLength="54.59">NMF</text>
<text x="29.7" y="1078.32" textLength="76.29">PHATE</text>
<text x="29.7" y="1111.22" textLength="165.11">tSNE (sklearn)</text>
<text x="29.7" y="1144.11" textLength="93.39">Spectral</text>
<text x="29.7" y="1177" textLength="49.93">ZIFA</text>
<text x="29.7" y="1209.89" textLength="83.72">SAUCIE</text>
<text x="29.7" y="1242.79" textLength="137.62">SQuaD-MDS</text>
<text x="29.7" y="1275.68" textLength="217.17">SQuaD-MDS Hybrid</text>
<text x="29.7" y="1308.57" textLength="56.09">scvis</text>
<text x="29.7" y="1341.47" textLength="122.18">scvis (Full)</text>
<text x="29.7" y="1374.36" textLength="114.02">GrandPrix</text>
</g>
<g font-family="'DejaVu Sans', Verdana, 'Liberation Sans', sans-serif" font-size="18" stroke="#87AFAA" stroke-width="0.2" textLength="29.2" lengthAdjust="spacingAndGlyphs">
<text x="250.25" y="715.4" textLength="29.2" lengthAdjust="spacingAndGlyphs">Yes</text>
<text x="339.98" y="715.4" textLength="29.2" lengthAdjust="spacingAndGlyphs">Yes</text>
<text x="519.45" y="715.4" textLength="29.2" lengthAdjust="spacingAndGlyphs">Yes</text>
<text x="609.18" y="715.4" textLength="29.2" lengthAdjust="spacingAndGlyphs">Yes</text>
<text x="698.92" y="715.4" textLength="29.2" lengthAdjust="spacingAndGlyphs">Yes</text>
<text x="788.65" y="715.4" textLength="29.2" lengthAdjust="spacingAndGlyphs">Yes</text>
<text x="878.38" y="715.4" textLength="29.2" lengthAdjust="spacingAndGlyphs">Yes</text>
<text x="968.11" y="715.4" textLength="29.2" lengthAdjust="spacingAndGlyphs">Yes</text>
<text x="1057.85" y="715.4" textLength="29.2" lengthAdjust="spacingAndGlyphs">Yes</text>
<text x="1147.58" y="715.4" textLength="29.2" lengthAdjust="spacingAndGlyphs">Yes</text>
<text x="1237.31" y="715.4" textLength="29.2" lengthAdjust="spacingAndGlyphs">Yes</text>
<text x="1327.05" y="715.4" textLength="29.2" lengthAdjust="spacingAndGlyphs">Yes</text>
<text x="250.25" y="748.29" textLength="29.2" lengthAdjust="spacingAndGlyphs">Yes</text>
<text x="339.98" y="748.29" textLength="29.2" lengthAdjust="spacingAndGlyphs">Yes</text>
<text x="519.45" y="748.29" textLength="29.2" lengthAdjust="spacingAndGlyphs">Yes</text>
<text x="609.18" y="748.29" textLength="29.2" lengthAdjust="spacingAndGlyphs">Yes</text>
<text x="698.92" y="748.29" textLength="29.2" lengthAdjust="spacingAndGlyphs">Yes</text>
<text x="788.65" y="748.29" textLength="29.2" lengthAdjust="spacingAndGlyphs">Yes</text>
<text x="878.38" y="748.29" textLength="29.2" lengthAdjust="spacingAndGlyphs">Yes</text>
<text x="968.11" y="748.29" textLength="29.2" lengthAdjust="spacingAndGlyphs">Yes</text>
<text x="1057.85" y="748.29" textLength="29.2" lengthAdjust="spacingAndGlyphs">Yes</text>
<text x="1147.58" y="748.29" textLength="29.2" lengthAdjust="spacingAndGlyphs">Yes</text>
<text x="1327.05" y="748.29" textLength="29.2" lengthAdjust="spacingAndGlyphs">Yes</text>
<text x="250.25" y="781.19" textLength="29.2" lengthAdjust="spacingAndGlyphs">Yes</text>
<text x="339.98" y="781.19" textLength="29.2" lengthAdjust="spacingAndGlyphs">Yes</text>
<text x="519.45" y="781.19" textLength="29.2" lengthAdjust="spacingAndGlyphs">Yes</text>
<text x="609.18" y="781.19" textLength="29.2" lengthAdjust="spacingAndGlyphs">Yes</text>
<text x="698.92" y="781.19" textLength="29.2" lengthAdjust="spacingAndGlyphs">Yes</text>
<text x="788.65" y="781.19" textLength="29.2" lengthAdjust="spacingAndGlyphs">Yes</text>
<text x="878.38" y="781.19" textLength="29.2" lengthAdjust="spacingAndGlyphs">Yes</text>
<text x="1057.85" y="781.19" textLength="29.2" lengthAdjust="spacingAndGlyphs">Yes</text>
<text x="1147.58" y="781.19" textLength="29.2" lengthAdjust="spacingAndGlyphs">Yes</text>
<text x="1237.31" y="781.19" textLength="29.2" lengthAdjust="spacingAndGlyphs">Yes</text>
<text x="1327.05" y="781.19" textLength="29.2" lengthAdjust="spacingAndGlyphs">Yes</text>
<text x="250.25" y="814.08" textLength="29.2" lengthAdjust="spacingAndGlyphs">Yes</text>
<text x="339.98" y="814.08" textLength="29.2" lengthAdjust="spacingAndGlyphs">Yes</text>
<text x="519.45" y="814.08" textLength="29.2" lengthAdjust="spacingAndGlyphs">Yes</text>
<text x="609.18" y="814.08" textLength="29.2" lengthAdjust="spacingAndGlyphs">Yes</text>
<text x="698.92" y="814.08" textLength="29.2" lengthAdjust="spacingAndGlyphs">Yes</text>
<text x="788.65" y="814.08" textLength="29.2" lengthAdjust="spacingAndGlyphs">Yes</text>
<text x="878.38" y="814.08" textLength="29.2" lengthAdjust="spacingAndGlyphs">Yes</text>
<text x="1057.85" y="814.08" textLength="29.2" lengthAdjust="spacingAndGlyphs">Yes</text>
<text x="1147.58" y="814.08" textLength="29.2" lengthAdjust="spacingAndGlyphs">Yes</text>
<text x="1237.31" y="814.08" textLength="29.2" lengthAdjust="spacingAndGlyphs">Yes</text>
<text x="1327.05" y="814.08" textLength="29.2" lengthAdjust="spacingAndGlyphs">Yes</text>
<text x="250.25" y="846.97" textLength="29.2" lengthAdjust="spacingAndGlyphs">Yes</text>
<text x="339.98" y="846.97" textLength="29.2" lengthAdjust="spacingAndGlyphs">Yes</text>
<text x="519.45" y="846.97" textLength="29.2" lengthAdjust="spacingAndGlyphs">Yes</text>
<text x="609.18" y="846.97" textLength="29.2" lengthAdjust="spacingAndGlyphs">Yes</text>
<text x="698.92" y="846.97" textLength="29.2" lengthAdjust="spacingAndGlyphs">Yes</text>
<text x="788.65" y="846.97" textLength="29.2" lengthAdjust="spacingAndGlyphs">Yes</text>
<text x="878.38" y="846.97" textLength="29.2" lengthAdjust="spacingAndGlyphs">Yes</text>
<text x="1057.85" y="846.97" textLength="29.2" lengthAdjust="spacingAndGlyphs">Yes</text>
<text x="1147.58" y="846.97" textLength="29.2" lengthAdjust="spacingAndGlyphs">Yes</text>
<text x="1237.31" y="846.97" textLength="29.2" lengthAdjust="spacingAndGlyphs">Yes</text>
<text x="1327.05" y="846.97" textLength="29.2" lengthAdjust="spacingAndGlyphs">Yes</text>
<text x="250.25" y="879.87" textLength="29.2" lengthAdjust="spacingAndGlyphs">Yes</text>
<text x="339.98" y="879.87" textLength="29.2" lengthAdjust="spacingAndGlyphs">Yes</text>
<text x="519.45" y="879.87" textLength="29.2" lengthAdjust="spacingAndGlyphs">Yes</text>
<text x="609.18" y="879.87" textLength="29.2" lengthAdjust="spacingAndGlyphs">Yes</text>
<text x="698.92" y="879.87" textLength="29.2" lengthAdjust="spacingAndGlyphs">Yes</text>
<text x="788.65" y="879.87" textLength="29.2" lengthAdjust="spacingAndGlyphs">Yes</text>
<text x="878.38" y="879.87" textLength="29.2" lengthAdjust="spacingAndGlyphs">Yes</text>
<text x="1057.85" y="879.87" textLength="29.2" lengthAdjust="spacingAndGlyphs">Yes</text>
<text x="1147.58" y="879.87" textLength="29.2" lengthAdjust="spacingAndGlyphs">Yes</text>
<text x="1237.31" y="879.87" textLength="29.2" lengthAdjust="spacingAndGlyphs">Yes</text>
<text x="1327.05" y="879.87" textLength="29.2" lengthAdjust="spacingAndGlyphs">Yes</text>
<text x="250.25" y="912.76" textLength="29.2" lengthAdjust="spacingAndGlyphs">Yes</text>
<text x="339.98" y="912.76" textLength="29.2" lengthAdjust="spacingAndGlyphs">Yes</text>
<text x="519.45" y="912.76" textLength="29.2" lengthAdjust="spacingAndGlyphs">Yes</text>
<text x="609.18" y="912.76" textLength="29.2" lengthAdjust="spacingAndGlyphs">Yes</text>
<text x="698.92" y="912.76" textLength="29.2" lengthAdjust="spacingAndGlyphs">Yes</text>
<text x="788.65" y="912.76" textLength="29.2" lengthAdjust="spacingAndGlyphs">Yes</text>
<text x="878.38" y="912.76" textLength="29.2" lengthAdjust="spacingAndGlyphs">Yes</text>
<text x="1057.85" y="912.76" textLength="29.2" lengthAdjust="spacingAndGlyphs">Yes</text>
<text x="1147.58" y="912.76" textLength="29.2" lengthAdjust="spacingAndGlyphs">Yes</text>
<text x="1237.31" y="912.76" textLength="29.2" lengthAdjust="spacingAndGlyphs">Yes</text>
<text x="1327.05" y="912.76" textLength="29.2" lengthAdjust="spacingAndGlyphs">Yes</text>
<text x="250.25" y="945.65" textLength="29.2" lengthAdjust="spacingAndGlyphs">Yes</text>
<text x="339.98" y="945.65" textLength="29.2" lengthAdjust="spacingAndGlyphs">Yes</text>
<text x="519.45" y="945.65" textLength="29.2" lengthAdjust="spacingAndGlyphs">Yes</text>
<text x="609.18" y="945.65" textLength="29.2" lengthAdjust="spacingAndGlyphs">Yes</text>
<text x="698.92" y="945.65" textLength="29.2" lengthAdjust="spacingAndGlyphs">Yes</text>
<text x="788.65" y="945.65" textLength="29.2" lengthAdjust="spacingAndGlyphs">Yes</text>
<text x="878.38" y="945.65" textLength="29.2" lengthAdjust="spacingAndGlyphs">Yes</text>
<text x="1057.85" y="945.65" textLength="29.2" lengthAdjust="spacingAndGlyphs">Yes</text>
<text x="1147.58" y="945.65" textLength="29.2" lengthAdjust="spacingAndGlyphs">Yes</text>
<text x="1327.05" y="945.65" textLength="29.2" lengthAdjust="spacingAndGlyphs">Yes</text>
<text x="250.25" y="978.54" textLength="29.2" lengthAdjust="spacingAndGlyphs">Yes</text>
<text x="339.98" y="978.54" textLength="29.2" lengthAdjust="spacingAndGlyphs">Yes</text>
<text x="519.45" y="978.54" textLength="29.2" lengthAdjust="spacingAndGlyphs">Yes</text>
<text x="609.18" y="978.54" textLength="29.2" lengthAdjust="spacingAndGlyphs">Yes</text>
<text x="698.92" y="978.54" textLength="29.2" lengthAdjust="spacingAndGlyphs">Yes</text>
<text x="788.65" y="978.54" textLength="29.2" lengthAdjust="spacingAndGlyphs">Yes</text>
<text x="878.38" y="978.54" textLength="29.2" lengthAdjust="spacingAndGlyphs">Yes</text>
<text x="1057.85" y="978.54" textLength="29.2" lengthAdjust="spacingAndGlyphs">Yes</text>
<text x="1147.58" y="978.54" textLength="29.2" lengthAdjust="spacingAndGlyphs">Yes</text>
<text x="1327.05" y="978.54" textLength="29.2" lengthAdjust="spacingAndGlyphs">Yes</text>
<text x="250.25" y="1011.44" textLength="29.2" lengthAdjust="spacingAndGlyphs">Yes</text>
<text x="339.98" y="1011.44" textLength="29.2" lengthAdjust="spacingAndGlyphs">Yes</text>
<text x="519.45" y="1011.44" textLength="29.2" lengthAdjust="spacingAndGlyphs">Yes</text>
<text x="609.18" y="1011.44" textLength="29.2" lengthAdjust="spacingAndGlyphs">Yes</text>
<text x="698.92" y="1011.44" textLength="29.2" lengthAdjust="spacingAndGlyphs">Yes</text>
<text x="788.65" y="1011.44" textLength="29.2" lengthAdjust="spacingAndGlyphs">Yes</text>
<text x="878.38" y="1011.44" textLength="29.2" lengthAdjust="spacingAndGlyphs">Yes</text>
<text x="1057.85" y="1011.44" textLength="29.2" lengthAdjust="spacingAndGlyphs">Yes</text>
<text x="1147.58" y="1011.44" textLength="29.2" lengthAdjust="spacingAndGlyphs">Yes</text>
<text x="1327.05" y="1011.44" textLength="29.2" lengthAdjust="spacingAndGlyphs">Yes</text>
<text x="250.25" y="1044.33" textLength="29.2" lengthAdjust="spacingAndGlyphs">Yes</text>
<text x="339.98" y="1044.33" textLength="29.2" lengthAdjust="spacingAndGlyphs">Yes</text>
<text x="519.45" y="1044.33" textLength="29.2" lengthAdjust="spacingAndGlyphs">Yes</text>
<text x="609.18" y="1044.33" textLength="29.2" lengthAdjust="spacingAndGlyphs">Yes</text>
<text x="698.92" y="1044.33" textLength="29.2" lengthAdjust="spacingAndGlyphs">Yes</text>
<text x="788.65" y="1044.33" textLength="29.2" lengthAdjust="spacingAndGlyphs">Yes</text>
<text x="878.38" y="1044.33" textLength="29.2" lengthAdjust="spacingAndGlyphs">Yes</text>
<text x="1057.85" y="1044.33" textLength="29.2" lengthAdjust="spacingAndGlyphs">Yes</text>
<text x="1147.58" y="1044.33" textLength="29.2" lengthAdjust="spacingAndGlyphs">Yes</text>
<text x="1327.05" y="1044.33" textLength="29.2" lengthAdjust="spacingAndGlyphs">Yes</text>
<text x="250.25" y="1077.22" textLength="29.2" lengthAdjust="spacingAndGlyphs">Yes</text>
<text x="339.98" y="1077.22" textLength="29.2" lengthAdjust="spacingAndGlyphs">Yes</text>
<text x="519.45" y="1077.22" textLength="29.2" lengthAdjust="spacingAndGlyphs">Yes</text>
<text x="609.18" y="1077.22" textLength="29.2" lengthAdjust="spacingAndGlyphs">Yes</text>
<text x="698.92" y="1077.22" textLength="29.2" lengthAdjust="spacingAndGlyphs">Yes</text>
<text x="788.65" y="1077.22" textLength="29.2" lengthAdjust="spacingAndGlyphs">Yes</text>
<text x="878.38" y="1077.22" textLength="29.2" lengthAdjust="spacingAndGlyphs">Yes</text>
<text x="1057.85" y="1077.22" textLength="29.2" lengthAdjust="spacingAndGlyphs">Yes</text>
<text x="1147.58" y="1077.22" textLength="29.2" lengthAdjust="spacingAndGlyphs">Yes</text>
<text x="1327.05" y="1077.22" textLength="29.2" lengthAdjust="spacingAndGlyphs">Yes</text>
<text x="250.25" y="1110.12" textLength="29.2" lengthAdjust="spacingAndGlyphs">Yes</text>
<text x="339.98" y="1110.12" textLength="29.2" lengthAdjust="spacingAndGlyphs">Yes</text>
<text x="519.45" y="1110.12" textLength="29.2" lengthAdjust="spacingAndGlyphs">Yes</text>
<text x="609.18" y="1110.12" textLength="29.2" lengthAdjust="spacingAndGlyphs">Yes</text>
<text x="698.92" y="1110.12" textLength="29.2" lengthAdjust="spacingAndGlyphs">Yes</text>
<text x="788.65" y="1110.12" textLength="29.2" lengthAdjust="spacingAndGlyphs">Yes</text>
<text x="878.38" y="1110.12" textLength="29.2" lengthAdjust="spacingAndGlyphs">Yes</text>
<text x="1057.85" y="1110.12" textLength="29.2" lengthAdjust="spacingAndGlyphs">Yes</text>
<text x="1147.58" y="1110.12" textLength="29.2" lengthAdjust="spacingAndGlyphs">Yes</text>
<text x="1327.05" y="1110.12" textLength="29.2" lengthAdjust="spacingAndGlyphs">Yes</text>
<text x="250.25" y="1143.01" textLength="29.2" lengthAdjust="spacingAndGlyphs">Yes</text>
<text x="339.98" y="1143.01" textLength="29.2" lengthAdjust="spacingAndGlyphs">Yes</text>
<text x="519.45" y="1143.01" textLength="29.2" lengthAdjust="spacingAndGlyphs">Yes</text>
<text x="609.18" y="1143.01" textLength="29.2" lengthAdjust="spacingAndGlyphs">Yes</text>
<text x="698.92" y="1143.01" textLength="29.2" lengthAdjust="spacingAndGlyphs">Yes</text>
<text x="788.65" y="1143.01" textLength="29.2" lengthAdjust="spacingAndGlyphs">Yes</text>
<text x="878.38" y="1143.01" textLength="29.2" lengthAdjust="spacingAndGlyphs">Yes</text>
<text x="1057.85" y="1143.01" textLength="29.2" lengthAdjust="spacingAndGlyphs">Yes</text>
<text x="1147.58" y="1143.01" textLength="29.2" lengthAdjust="spacingAndGlyphs">Yes</text>
<text x="250.25" y="1175.9" textLength="29.2" lengthAdjust="spacingAndGlyphs">Yes</text>
<text x="609.18" y="1175.9" textLength="29.2" lengthAdjust="spacingAndGlyphs">Yes</text>
<text x="698.92" y="1175.9" textLength="29.2" lengthAdjust="spacingAndGlyphs">Yes</text>
<text x="788.65" y="1175.9" textLength="29.2" lengthAdjust="spacingAndGlyphs">Yes</text>
<text x="878.38" y="1175.9" textLength="29.2" lengthAdjust="spacingAndGlyphs">Yes</text>
<text x="1057.85" y="1175.9" textLength="29.2" lengthAdjust="spacingAndGlyphs">Yes</text>
<text x="1327.05" y="1175.9" textLength="29.2" lengthAdjust="spacingAndGlyphs">Yes</text>
<text x="250.25" y="1208.79" textLength="29.2" lengthAdjust="spacingAndGlyphs">Yes</text>
<text x="429.72" y="1208.79" textLength="29.2" lengthAdjust="spacingAndGlyphs">Yes</text>
<text x="609.18" y="1208.79" textLength="29.2" lengthAdjust="spacingAndGlyphs">Yes</text>
<text x="698.92" y="1208.79" textLength="29.2" lengthAdjust="spacingAndGlyphs">Yes</text>
<text x="788.65" y="1208.79" textLength="29.2" lengthAdjust="spacingAndGlyphs">Yes</text>
<text x="1057.85" y="1208.79" textLength="29.2" lengthAdjust="spacingAndGlyphs">Yes</text>
<text x="1327.05" y="1208.79" textLength="29.2" lengthAdjust="spacingAndGlyphs">Yes</text>
<text x="250.25" y="1241.69" textLength="29.2" lengthAdjust="spacingAndGlyphs">Yes</text>
<text x="609.18" y="1241.69" textLength="29.2" lengthAdjust="spacingAndGlyphs">Yes</text>
<text x="698.92" y="1241.69" textLength="29.2" lengthAdjust="spacingAndGlyphs">Yes</text>
<text x="878.38" y="1241.69" textLength="29.2" lengthAdjust="spacingAndGlyphs">Yes</text>
<text x="1057.85" y="1241.69" textLength="29.2" lengthAdjust="spacingAndGlyphs">Yes</text>
<text x="1327.05" y="1241.69" textLength="29.2" lengthAdjust="spacingAndGlyphs">Yes</text>
<text x="250.25" y="1274.58" textLength="29.2" lengthAdjust="spacingAndGlyphs">Yes</text>
<text x="609.18" y="1274.58" textLength="29.2" lengthAdjust="spacingAndGlyphs">Yes</text>
<text x="698.92" y="1274.58" textLength="29.2" lengthAdjust="spacingAndGlyphs">Yes</text>
<text x="878.38" y="1274.58" textLength="29.2" lengthAdjust="spacingAndGlyphs">Yes</text>
<text x="1057.85" y="1274.58" textLength="29.2" lengthAdjust="spacingAndGlyphs">Yes</text>
<text x="1327.05" y="1274.58" textLength="29.2" lengthAdjust="spacingAndGlyphs">Yes</text>
<text x="250.25" y="1307.47" textLength="29.2" lengthAdjust="spacingAndGlyphs">Yes</text>
<text x="429.72" y="1307.47" textLength="29.2" lengthAdjust="spacingAndGlyphs">Yes</text>
<text x="698.92" y="1307.47" textLength="29.2" lengthAdjust="spacingAndGlyphs">Yes</text>
<text x="1057.85" y="1307.47" textLength="29.2" lengthAdjust="spacingAndGlyphs">Yes</text>
<text x="1237.31" y="1307.47" textLength="29.2" lengthAdjust="spacingAndGlyphs">Yes</text>
<text x="1327.05" y="1307.47" textLength="29.2" lengthAdjust="spacingAndGlyphs">Yes</text>
<text x="250.25" y="1340.37" textLength="29.2" lengthAdjust="spacingAndGlyphs">Yes</text>
<text x="429.72" y="1340.37" textLength="29.2" lengthAdjust="spacingAndGlyphs">Yes</text>
<text x="698.92" y="1340.37" textLength="29.2" lengthAdjust="spacingAndGlyphs">Yes</text>
<text x="1057.85" y="1340.37" textLength="29.2" lengthAdjust="spacingAndGlyphs">Yes</text>
<text x="1237.31" y="1340.37" textLength="29.2" lengthAdjust="spacingAndGlyphs">Yes</text>
<text x="1327.05" y="1340.37" textLength="29.2" lengthAdjust="spacingAndGlyphs">Yes</text>
<text x="250.25" y="1373.26" textLength="29.2" lengthAdjust="spacingAndGlyphs">Yes</text>
<text x="609.18" y="1373.26" textLength="29.2" lengthAdjust="spacingAndGlyphs">Yes</text>
<text x="698.92" y="1373.26" textLength="29.2" lengthAdjust="spacingAndGlyphs">Yes</text>
<text x="1057.85" y="1373.26" textLength="29.2" lengthAdjust="spacingAndGlyphs">Yes</text>
</g>
<g font-family="'DejaVu Sans', Verdana, 'Liberation Sans', sans-serif" font-size="18" stroke="#ECA61E" stroke-width="0.2" textLength="23.4" lengthAdjust="spacingAndGlyphs">
<text x="429.72" y="715.4" textLength="23.4" lengthAdjust="spacingAndGlyphs">No</text>
<text x="429.72" y="748.29" textLength="23.4" lengthAdjust="spacingAndGlyphs">No</text>
<text x="1237.31" y="748.29" textLength="23.4" lengthAdjust="spacingAndGlyphs">No</text>
<text x="429.72" y="781.19" textLength="23.4" lengthAdjust="spacingAndGlyphs">No</text>
<text x="968.11" y="781.19" textLength="23.4" lengthAdjust="spacingAndGlyphs">No</text>
<text x="429.72" y="814.08" textLength="23.4" lengthAdjust="spacingAndGlyphs">No</text>
<text x="968.11" y="814.08" textLength="23.4" lengthAdjust="spacingAndGlyphs">No</text>
<text x="429.72" y="846.97" textLength="23.4" lengthAdjust="spacingAndGlyphs">No</text>
<text x="968.11" y="846.97" textLength="23.4" lengthAdjust="spacingAndGlyphs">No</text>
<text x="429.72" y="879.87" textLength="23.4" lengthAdjust="spacingAndGlyphs">No</text>
<text x="968.11" y="879.87" textLength="23.4" lengthAdjust="spacingAndGlyphs">No</text>
<text x="429.72" y="912.76" textLength="23.4" lengthAdjust="spacingAndGlyphs">No</text>
<text x="968.11" y="912.76" textLength="23.4" lengthAdjust="spacingAndGlyphs">No</text>
<text x="429.72" y="945.65" textLength="23.4" lengthAdjust="spacingAndGlyphs">No</text>
<text x="968.11" y="945.65" textLength="23.4" lengthAdjust="spacingAndGlyphs">No</text>
<text x="1237.31" y="945.65" textLength="23.4" lengthAdjust="spacingAndGlyphs">No</text>
<text x="429.72" y="978.54" textLength="23.4" lengthAdjust="spacingAndGlyphs">No</text>
<text x="968.11" y="978.54" textLength="23.4" lengthAdjust="spacingAndGlyphs">No</text>
<text x="1237.31" y="978.54" textLength="23.4" lengthAdjust="spacingAndGlyphs">No</text>
<text x="429.72" y="1011.44" textLength="23.4" lengthAdjust="spacingAndGlyphs">No</text>
<text x="968.11" y="1011.44" textLength="23.4" lengthAdjust="spacingAndGlyphs">No</text>
<text x="1237.31" y="1011.44" textLength="23.4" lengthAdjust="spacingAndGlyphs">No</text>
<text x="429.72" y="1044.33" textLength="23.4" lengthAdjust="spacingAndGlyphs">No</text>
<text x="968.11" y="1044.33" textLength="23.4" lengthAdjust="spacingAndGlyphs">No</text>
<text x="1237.31" y="1044.33" textLength="23.4" lengthAdjust="spacingAndGlyphs">No</text>
<text x="429.72" y="1077.22" textLength="23.4" lengthAdjust="spacingAndGlyphs">No</text>
<text x="968.11" y="1077.22" textLength="23.4" lengthAdjust="spacingAndGlyphs">No</text>
<text x="1237.31" y="1077.22" textLength="23.4" lengthAdjust="spacingAndGlyphs">No</text>
<text x="429.72" y="1110.12" textLength="23.4" lengthAdjust="spacingAndGlyphs">No</text>
<text x="968.11" y="1110.12" textLength="23.4" lengthAdjust="spacingAndGlyphs">No</text>
<text x="1237.31" y="1110.12" textLength="23.4" lengthAdjust="spacingAndGlyphs">No</text>
<text x="429.72" y="1143.01" textLength="23.4" lengthAdjust="spacingAndGlyphs">No</text>
<text x="968.11" y="1143.01" textLength="23.4" lengthAdjust="spacingAndGlyphs">No</text>
<text x="1237.31" y="1143.01" textLength="23.4" lengthAdjust="spacingAndGlyphs">No</text>
<text x="1327.05" y="1143.01" textLength="23.4" lengthAdjust="spacingAndGlyphs">No</text>
<text x="339.98" y="1175.9" textLength="23.4" lengthAdjust="spacingAndGlyphs">No</text>
<text x="429.72" y="1175.9" textLength="23.4" lengthAdjust="spacingAndGlyphs">No</text>
<text x="519.45" y="1175.9" textLength="23.4" lengthAdjust="spacingAndGlyphs">No</text>
<text x="968.11" y="1175.9" textLength="23.4" lengthAdjust="spacingAndGlyphs">No</text>
<text x="1147.58" y="1175.9" textLength="23.4" lengthAdjust="spacingAndGlyphs">No</text>
<text x="1237.31" y="1175.9" textLength="23.4" lengthAdjust="spacingAndGlyphs">No</text>
<text x="339.98" y="1208.79" textLength="23.4" lengthAdjust="spacingAndGlyphs">No</text>
<text x="519.45" y="1208.79" textLength="23.4" lengthAdjust="spacingAndGlyphs">No</text>
<text x="878.38" y="1208.79" textLength="23.4" lengthAdjust="spacingAndGlyphs">No</text>
<text x="968.11" y="1208.79" textLength="23.4" lengthAdjust="spacingAndGlyphs">No</text>
<text x="1147.58" y="1208.79" textLength="23.4" lengthAdjust="spacingAndGlyphs">No</text>
<text x="1237.31" y="1208.79" textLength="23.4" lengthAdjust="spacingAndGlyphs">No</text>
<text x="339.98" y="1241.69" textLength="23.4" lengthAdjust="spacingAndGlyphs">No</text>
<text x="429.72" y="1241.69" textLength="23.4" lengthAdjust="spacingAndGlyphs">No</text>
<text x="519.45" y="1241.69" textLength="23.4" lengthAdjust="spacingAndGlyphs">No</text>
<text x="788.65" y="1241.69" textLength="23.4" lengthAdjust="spacingAndGlyphs">No</text>
<text x="968.11" y="1241.69" textLength="23.4" lengthAdjust="spacingAndGlyphs">No</text>
<text x="1147.58" y="1241.69" textLength="23.4" lengthAdjust="spacingAndGlyphs">No</text>
<text x="1237.31" y="1241.69" textLength="23.4" lengthAdjust="spacingAndGlyphs">No</text>
<text x="339.98" y="1274.58" textLength="23.4" lengthAdjust="spacingAndGlyphs">No</text>
<text x="429.72" y="1274.58" textLength="23.4" lengthAdjust="spacingAndGlyphs">No</text>
<text x="519.45" y="1274.58" textLength="23.4" lengthAdjust="spacingAndGlyphs">No</text>
<text x="788.65" y="1274.58" textLength="23.4" lengthAdjust="spacingAndGlyphs">No</text>
<text x="968.11" y="1274.58" textLength="23.4" lengthAdjust="spacingAndGlyphs">No</text>
<text x="1147.58" y="1274.58" textLength="23.4" lengthAdjust="spacingAndGlyphs">No</text>
<text x="1237.31" y="1274.58" textLength="23.4" lengthAdjust="spacingAndGlyphs">No</text>
<text x="339.98" y="1307.47" textLength="23.4" lengthAdjust="spacingAndGlyphs">No</text>
<text x="519.45" y="1307.47" textLength="23.4" lengthAdjust="spacingAndGlyphs">No</text>
<text x="609.18" y="1307.47" textLength="23.4" lengthAdjust="spacingAndGlyphs">No</text>
<text x="788.65" y="1307.47" textLength="23.4" lengthAdjust="spacingAndGlyphs">No</text>
<text x="878.38" y="1307.47" textLength="23.4" lengthAdjust="spacingAndGlyphs">No</text>
<text x="968.11" y="1307.47" textLength="23.4" lengthAdjust="spacingAndGlyphs">No</text>
<text x="1147.58" y="1307.47" textLength="23.4" lengthAdjust="spacingAndGlyphs">No</text>
<text x="339.98" y="1340.37" textLength="23.4" lengthAdjust="spacingAndGlyphs">No</text>
<text x="519.45" y="1340.37" textLength="23.4" lengthAdjust="spacingAndGlyphs">No</text>
<text x="609.18" y="1340.37" textLength="23.4" lengthAdjust="spacingAndGlyphs">No</text>
<text x="788.65" y="1340.37" textLength="23.4" lengthAdjust="spacingAndGlyphs">No</text>
<text x="878.38" y="1340.37" textLength="23.4" lengthAdjust="spacingAndGlyphs">No</text>
<text x="968.11" y="1340.37" textLength="23.4" lengthAdjust="spacingAndGlyphs">No</text>
<text x="1147.58" y="1340.37" textLength="23.4" lengthAdjust="spacingAndGlyphs">No</text>
<text x="339.98" y="1373.26" textLength="23.4" lengthAdjust="spacingAndGlyphs">No</text>
<text x="429.72" y="1373.26" textLength="23.4" lengthAdjust="spacingAndGlyphs">No</text>
<text x="519.45" y="1373.26" textLength="23.4" lengthAdjust="spacingAndGlyphs">No</text>
<text x="788.65" y="1373.26" textLength="23.4" lengthAdjust="spacingAndGlyphs">No</text>
<text x="878.38" y="1373.26" textLength="23.4" lengthAdjust="spacingAndGlyphs">No</text>
<text x="968.11" y="1373.26" textLength="23.4" lengthAdjust="spacingAndGlyphs">No</text>
<text x="1147.58" y="1373.26" textLength="23.4" lengthAdjust="spacingAndGlyphs">No</text>
<text x="1237.31" y="1373.26" textLength="23.4" lengthAdjust="spacingAndGlyphs">No</text>
<text x="1327.05" y="1373.26" textLength="23.4" lengthAdjust="spacingAndGlyphs">No</text>
</g>
<defs><linearGradient id="ug" x1="0" y1="0" x2="1" y2="0">
<stop offset="0" stop-color="#87AFAA"/>
<stop offset="0.06" stop-color="#91AFA3"/>
<stop offset="0.12" stop-color="#9AAE9B"/>
<stop offset="0.19" stop-color="#A2AD94"/>
<stop offset="0.25" stop-color="#AAAD8C"/>
<stop offset="0.31" stop-color="#B1AC84"/>
<stop offset="0.38" stop-color="#B7AC7D"/>
<stop offset="0.44" stop-color="#BEAB75"/>
<stop offset="0.5" stop-color="#C4AB6D"/>
<stop offset="0.56" stop-color="#C9AA65"/>
<stop offset="0.62" stop-color="#CFAA5D"/>
<stop offset="0.69" stop-color="#D4A955"/>
<stop offset="0.75" stop-color="#D9A94C"/>
<stop offset="0.81" stop-color="#DEA842"/>
<stop offset="0.88" stop-color="#E3A738"/>
<stop offset="0.94" stop-color="#E8A72C"/>
<stop offset="1" stop-color="#ECA61E"/>
</linearGradient></defs>
<text x="1609.5" y="584.2" font-size="25.8" font-family="'Liberation Sans', Arial, Helvetica, sans-serif" text-anchor="middle">Usability</text>
<rect x="1474.9" y="628.6" width="280.1" height="29.2" fill="url(#ug)"/>
<text x="1475" y="620.1" font-size="18.7" font-family="'Liberation Sans', Arial, Helvetica, sans-serif" text-anchor="middle">12</text>
<text x="1544.4" y="620.1" font-size="18.7" font-family="'Liberation Sans', Arial, Helvetica, sans-serif" text-anchor="middle">10</text>
<line x1="1544.93" y1="643.2" x2="1544.93" y2="649.04" stroke="#fff" stroke-width="0.6" stroke-opacity="0.5"/>
<text x="1613.2" y="620.1" font-size="18.7" font-family="'Liberation Sans', Arial, Helvetica, sans-serif" text-anchor="middle">8</text>
<line x1="1614.95" y1="643.2" x2="1614.95" y2="649.04" stroke="#fff" stroke-width="0.6" stroke-opacity="0.5"/>
<text x="1681.9" y="620.1" font-size="18.7" font-family="'Liberation Sans', Arial, Helvetica, sans-serif" text-anchor="middle">6</text>
<line x1="1684.98" y1="643.2" x2="1684.98" y2="649.04" stroke="#fff" stroke-width="0.6" stroke-opacity="0.5"/>
<text x="1752.4" y="620.1" font-size="18.7" font-family="'Liberation Sans', Arial, Helvetica, sans-serif" text-anchor="middle">4</text>
<g font-family="'Liberation Sans', Arial, Helvetica, sans-serif" font-size="13.8" text-anchor="end">
<rect x="1420.3" y="688.3" width="471.72" height="29.6" fill="#87AFAA"/>
<text x="1891.62" y="708.1">PCA: 12</text>
<rect x="1420.3" y="721.5" width="432.41" height="29.6" fill="#9AAE9B"/>
<text x="1852.31" y="741.3">FA: 11</text>
<rect x="1420.3" y="754.7" width="432.41" height="29.6" fill="#9AAE9B"/>
<text x="1852.31" y="774.5">ICA: 11</text>
<rect x="1420.3" y="787.9" width="432.41" height="29.6" fill="#9AAE9B"/>
<text x="1852.31" y="807.7">Isomap: 11</text>
<rect x="1420.3" y="821.1" width="432.41" height="29.6" fill="#9AAE9B"/>
<text x="1852.31" y="840.9">LLE: 11</text>
<rect x="1420.3" y="854.3" width="432.41" height="29.6" fill="#9AAE9B"/>
<text x="1852.31" y="874.1">tSNE: 11</text>
<rect x="1420.3" y="887.5" width="432.41" height="29.6" fill="#9AAE9B"/>
<text x="1852.31" y="907.3">UMAP: 11</text>
<rect x="1420.3" y="920.7" width="393.1" height="29.6" fill="#AAAD8C"/>
<text x="1813" y="940.5">DiffMap: 10</text>
<rect x="1420.3" y="953.9" width="393.1" height="29.6" fill="#AAAD8C"/>
<text x="1813" y="973.7">KPCA Poly: 10</text>
<rect x="1420.3" y="987.1" width="393.1" height="29.6" fill="#AAAD8C"/>
<text x="1813" y="1006.9">KPCA RBF: 10</text>
<rect x="1420.3" y="1020.3" width="393.1" height="29.6" fill="#AAAD8C"/>
<text x="1813" y="1040.1">NMF: 10</text>
<rect x="1420.3" y="1053.5" width="393.1" height="29.6" fill="#AAAD8C"/>
<text x="1813" y="1073.3">PHATE: 10</text>
<rect x="1420.3" y="1086.7" width="393.1" height="29.6" fill="#AAAD8C"/>
<text x="1813" y="1106.5">tSNE (sklearn): 10</text>
<rect x="1420.3" y="1119.9" width="353.79" height="29.6" fill="#B7AC7D"/>
<text x="1773.69" y="1139.7">Spectral: 9</text>
<rect x="1420.3" y="1153.1" width="275.17" height="29.6" fill="#CFAA5D"/>
<text x="1695.07" y="1172.9">ZIFA: 7</text>
<rect x="1420.3" y="1186.3" width="275.17" height="29.6" fill="#CFAA5D"/>
<text x="1695.07" y="1206.1">SAUCIE: 7</text>
<rect x="1420.3" y="1219.5" width="235.86" height="29.6" fill="#D9A94C"/>
<text x="1655.76" y="1239.3">SQuaD−MDS: 6</text>
<rect x="1420.3" y="1252.7" width="235.86" height="29.6" fill="#D9A94C"/>
<text x="1655.76" y="1272.5">SQuaD−MDS Hybrid: 6</text>
<rect x="1420.3" y="1285.9" width="235.86" height="29.6" fill="#D9A94C"/>
<text x="1655.76" y="1305.7">scvis: 6</text>
<rect x="1420.3" y="1319.1" width="235.86" height="29.6" fill="#D9A94C"/>
<text x="1655.76" y="1338.9">scvis (Full): 6</text>
<rect x="1420.3" y="1352.3" width="157.24" height="29.6" fill="#ECA61E"/>
<text x="1577.14" y="1372.1">GrandPrix: 4</text>
</g>
</svg>
</body>
</html>
